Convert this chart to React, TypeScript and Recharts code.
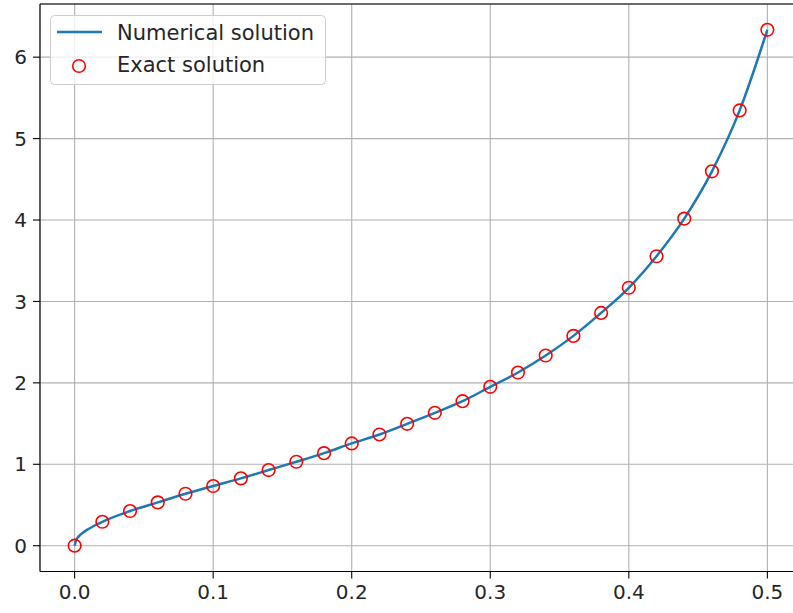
import React from 'react';
import {
    ComposedChart,
    Line,
    Scatter,
    XAxis,
    YAxis,
    CartesianGrid,
    Legend,
    ReferenceLine,
} from 'recharts';

// exact solution samples (red circles)
const exactX = [0, 0.02, 0.04, 0.06, 0.08, 0.1, 0.12, 0.14, 0.16, 0.18, 0.2, 0.22, 0.24,
    0.26, 0.28, 0.3, 0.32, 0.34, 0.36, 0.38, 0.4, 0.42, 0.44, 0.46, 0.48, 0.5];
const exactY = [0, 0.294, 0.426, 0.532, 0.638, 0.733, 0.827, 0.929, 1.031, 1.137, 1.256, 1.366,
    1.497, 1.632, 1.775, 1.951, 2.127, 2.336, 2.577, 2.859, 3.168, 3.555, 4.017, 4.598, 5.346, 6.336];

// numerical solution (blue line), a few extra points near 0 where it rises steeply
const numX = [0, 0.001, 0.003, 0.006, 0.01, 0.015, 0.02, 0.04, 0.06, 0.08, 0.1, 0.12, 0.14, 0.16,
    0.18, 0.2, 0.22, 0.24, 0.26, 0.28, 0.3, 0.32, 0.34, 0.36, 0.38, 0.4, 0.42, 0.44, 0.46, 0.48, 0.5];
const numY = [0, 0.065, 0.115, 0.16, 0.205, 0.252, 0.294, 0.426, 0.532, 0.638, 0.733, 0.827, 0.929,
    1.031, 1.137, 1.256, 1.366, 1.497, 1.632, 1.775, 1.951, 2.127, 2.336, 2.577, 2.859, 3.168,
    3.555, 4.017, 4.598, 5.346, 6.336];

const xTicks = [0, 0.1, 0.2, 0.3, 0.4, 0.5];
const yTicks = [0, 1, 2, 3, 4, 5, 6];

const exactData = exactX.map((x, i) => ({ x, y: exactY[i] }));
const numData = numX.map((x, i) => ({ x, y: numY[i] }));

const X_MIN = -0.025;
const X_MAX = 0.525;
const Y_MIN = -0.3168;
const Y_MAX = 6.653;

const FONT = '"DejaVu Sans", sans-serif';
const BLUE = '#1f77b4';

const RingDot = (props: any) => {
    const { cx, cy } = props;
    if (cx == null || cy == null) return null;
    return <circle cx={cx} cy={cy} r={6.3} fill="none" stroke="#ff0000" strokeWidth={1.6} />;
};

const LegendBox = () => (
    <svg width={277} height={71} style={{ display: 'block' }}>
        <rect x={0.5} y={0.5} width={275} height={69} rx={4} fill="rgba(255,255,255,0.8)" stroke="#cccccc" />
        <line x1={7} x2={52} y1={17} y2={17} stroke={BLUE} strokeWidth={2.5} />
        <circle cx={29} cy={51} r={6.3} fill="none" stroke="#ff0000" strokeWidth={1.6} />
        <text x={67} y={24.5} fontSize={21} fontFamily={FONT} fill="#262626">Numerical solution</text>
        <text x={67} y={56.5} fontSize={21} fontFamily={FONT} fill="#262626">Exact solution</text>
    </svg>
);

export default function App() {
    const tickStyle = { fontSize: 20, fontFamily: FONT, fill: '#262626' };
    return (
        <div style={{ position: 'absolute', left: 0, top: 0, width: 793, height: 613, overflow: 'hidden', background: '#fff' }}>
            <ComposedChart width={806} height={613} margin={{ top: 4, right: 4, bottom: 0, left: 0 }}>
                <CartesianGrid stroke="#b0b0b0" strokeWidth={1.1} />
                <XAxis
                    type="number"
                    dataKey="x"
                    domain={[X_MIN, X_MAX]}
                    ticks={xTicks}
                    allowDataOverflow
                    height={41.5}
                    tickSize={7}
                    tickMargin={6}
                    tick={tickStyle}
                    tickFormatter={(v: number) => v.toFixed(1)}
                    axisLine={{ stroke: '#000', strokeWidth: 1.1 }}
                    tickLine={{ stroke: '#000', strokeWidth: 1.1 }}
                />
                <YAxis
                    type="number"
                    dataKey="y"
                    domain={[Y_MIN, Y_MAX]}
                    ticks={yTicks}
                    allowDataOverflow
                    width={40}
                    tickSize={7}
                    tickMargin={6}
                    tick={tickStyle}
                    axisLine={{ stroke: '#000', strokeWidth: 1.1 }}
                    tickLine={{ stroke: '#000', strokeWidth: 1.1 }}
                />
                <ReferenceLine y={Y_MAX} stroke="#000" strokeWidth={1.1} ifOverflow="visible" />
                <ReferenceLine x={X_MAX} stroke="#000" strokeWidth={1.1} ifOverflow="visible" />
                <Line
                    data={numData}
                    dataKey="y"
                    type="monotone"
                    stroke={BLUE}
                    strokeWidth={2.5}
                    dot={false}
                    activeDot={false}
                    isAnimationActive={false}
                    name="Numerical solution"
                />
                <Scatter
                    data={exactData}
                    dataKey="y"
                    shape={<RingDot />}
                    isAnimationActive={false}
                    name="Exact solution"
                />
                <Legend
                    layout="vertical"
                    align="center"
                    verticalAlign="middle"
                    wrapperStyle={{ left: 50, top: 15, width: 'auto' }}
                    content={() => <LegendBox />}
                />
            </ComposedChart>
        </div>
    );
}
